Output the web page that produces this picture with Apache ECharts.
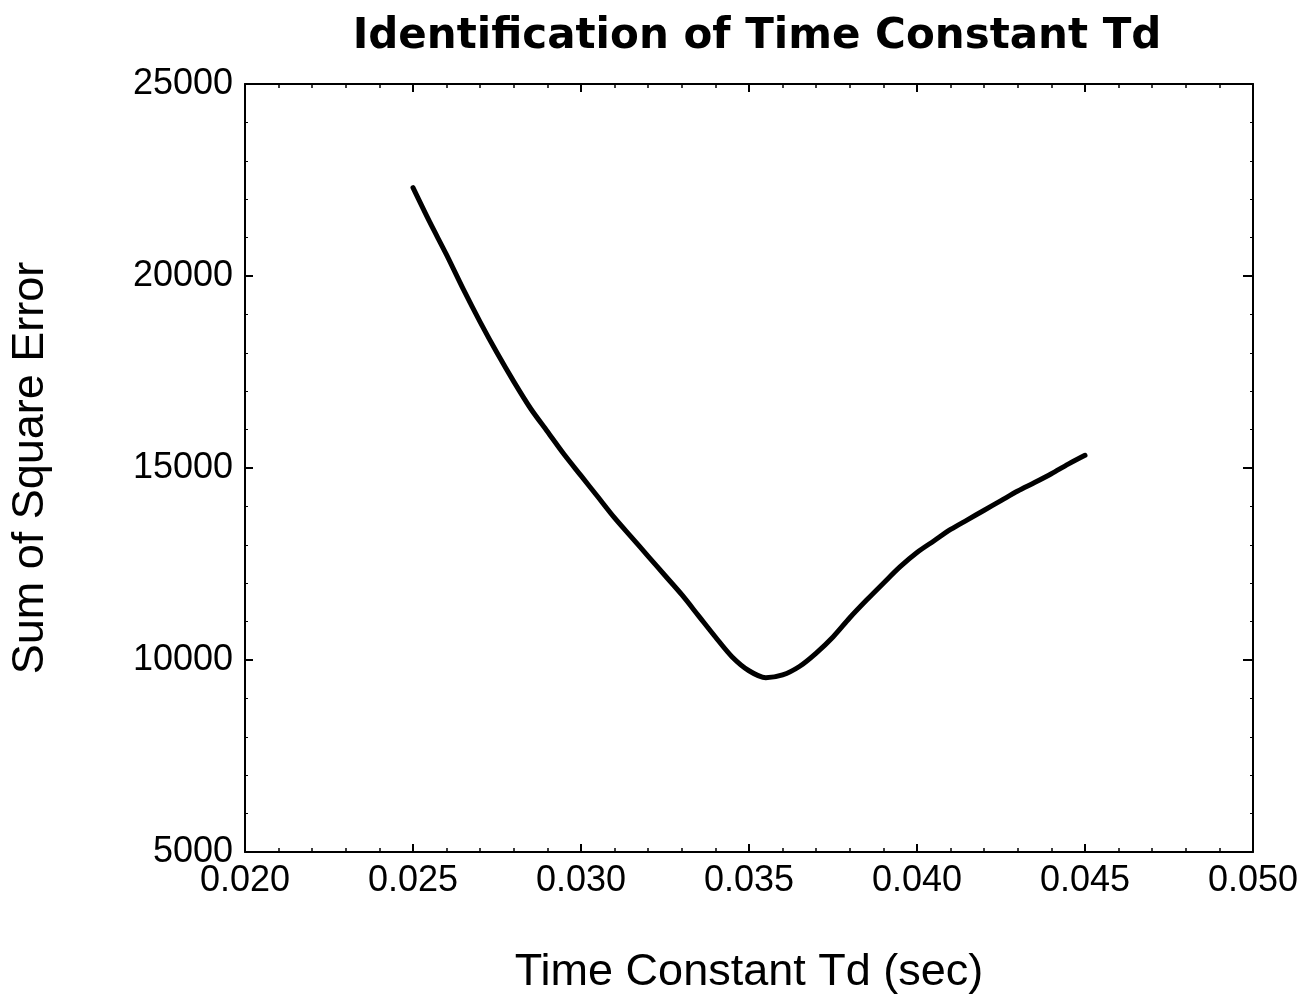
<!DOCTYPE html>
<html>
<head>
<meta charset="utf-8">
<script src="https://cdn.jsdelivr.net/npm/echarts@6/dist/echarts.min.js"></script>
<style>html,body{margin:0;padding:0;background:#fff}#c{width:1315px;height:1008px}</style>
</head>
<body>
<div id="c"></div>
<script>
const titleText = 'Identification of Time Constant Td';
const xName = 'Time Constant Td (sec)';
const yName = 'Sum of Square Error';
const tdValues = [0.0250,0.0255,0.0260,0.0265,0.0270,0.0275,0.0280,0.0285,0.0290,0.0295,0.0300,0.0305,0.0310,0.0315,0.0320,0.0325,0.0330,0.0335,0.0340,0.0345,0.0350,0.0355,0.0360,0.0365,0.0370,0.0375,0.0380,0.0385,0.0390,0.0395,0.0400,0.0405,0.0410,0.0415,0.0420,0.0425,0.0430,0.0435,0.0440,0.0445,0.0450];
const sseValues = [22300,21400,20550,19650,18800,18000,17250,16550,15950,15350,14800,14250,13700,13200,12700,12200,11700,11150,10600,10080,9720,9540,9610,9830,10180,10600,11100,11560,12000,12430,12800,13100,13400,13650,13900,14150,14400,14620,14850,15100,15330];
const xTicks = [0.020,0.025,0.030,0.035,0.040,0.045,0.050];
const yTicks = [5000,10000,15000,20000,25000];

const data = tdValues.map((x,i)=>[x,sseValues[i]]);
const font = 'Liberation Sans, Arial, Helvetica, sans-serif';
const chart = echarts.init(document.getElementById('c'), null, {renderer:'canvas'});
const axisLineStyle = {color:'#000', width:2};
chart.setOption({
  backgroundColor:'#fff',
  animation:false,
  title:{text:titleText,left:752,top:11,textAlign:'center',textStyle:{fontFamily:'DejaVu Sans, sans-serif',fontWeight:'bold',fontSize:42,color:'#000'}},
  grid:{left:245,right:62,top:84,bottom:156,containLabel:false},
  xAxis:[{
    type:'value',min:xTicks[0],max:xTicks[xTicks.length-1],interval:0.005,position:'bottom',
    name:xName,nameLocation:'middle',nameGap:98,
    nameTextStyle:{fontFamily:font,fontSize:45,color:'#000'},
    axisLine:{lineStyle:axisLineStyle},
    axisTick:{inside:true,length:8,lineStyle:{color:'#000',width:2}},
    minorTick:{show:true,splitNumber:5,length:4,lineStyle:{color:'#000',width:1.5}},
    axisLabel:{fontFamily:font,fontSize:36,color:'#000',margin:11,formatter:v=>v.toFixed(3)},
    splitLine:{show:false}
  },{
    type:'value',min:xTicks[0],max:xTicks[xTicks.length-1],interval:0.005,position:'top',
    axisLine:{lineStyle:axisLineStyle},
    axisTick:{inside:true,length:8,lineStyle:{color:'#000',width:2}},
    minorTick:{show:true,splitNumber:5,length:4,lineStyle:{color:'#000',width:1.5}},
    axisLabel:{show:false},splitLine:{show:false}
  }],
  yAxis:[{
    type:'value',min:yTicks[0],max:yTicks[yTicks.length-1],interval:5000,position:'left',
    name:yName,nameLocation:'middle',nameGap:192,
    nameTextStyle:{fontFamily:font,fontSize:45,color:'#000'},
    axisLine:{lineStyle:axisLineStyle},
    axisTick:{inside:true,length:8,lineStyle:{color:'#000',width:2}},
    minorTick:{show:true,splitNumber:5,length:3,lineStyle:{color:'#000',width:1}},
    axisLabel:{fontFamily:font,fontSize:36,color:'#000',margin:12,formatter:v=>String(v)},
    splitLine:{show:false}
  },{
    type:'value',min:yTicks[0],max:yTicks[yTicks.length-1],interval:5000,position:'right',
    axisLine:{lineStyle:axisLineStyle},
    axisTick:{inside:true,length:10,lineStyle:{color:'#000',width:2}},
    minorTick:{show:true,splitNumber:5,length:3,lineStyle:{color:'#000',width:1}},
    axisLabel:{show:false},splitLine:{show:false}
  }],
  series:[{
    type:'line',data:data,xAxisIndex:0,yAxisIndex:0,smooth:0.3,showSymbol:false,
    lineStyle:{color:'#000',width:5,cap:'round',join:'round'}
  }]
});
</script>
</body>
</html>
